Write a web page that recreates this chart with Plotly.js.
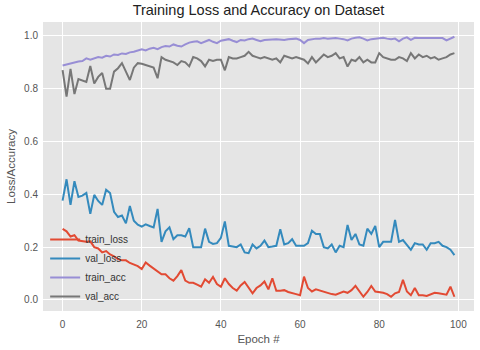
<!DOCTYPE html>
<html>
<head>
<meta charset="utf-8">
<script src="https://cdn.plot.ly/plotly-3.0.1.min.js"></script>
<style>
  html, body { margin: 0; padding: 0; background: #fff; }
  #chart { width: 480px; height: 350px; }
</style>
</head>
<body>
<div id="chart"></div>
<script>
var trainLoss = [0.269,0.260,0.240,0.245,0.225,0.222,0.220,0.222,0.200,0.195,
  0.180,0.185,0.172,0.165,0.155,0.150,0.150,0.140,0.135,0.128,
  0.117,0.142,0.130,0.120,0.110,0.097,0.097,0.082,0.073,0.090,
  0.113,0.073,0.065,0.065,0.058,0.050,0.078,0.065,0.087,0.060,
  0.050,0.082,0.060,0.045,0.035,0.055,0.068,0.045,0.025,0.045,
  0.055,0.070,0.040,0.082,0.035,0.035,0.037,0.030,0.027,0.022,
  0.018,0.088,0.045,0.032,0.040,0.035,0.030,0.025,0.022,0.020,
  0.025,0.032,0.027,0.037,0.053,0.030,0.012,0.030,0.053,0.032,
  0.030,0.027,0.022,0.012,0.025,0.030,0.076,0.032,0.018,0.045,
  0.018,0.018,0.015,0.020,0.027,0.025,0.022,0.020,0.050,0.012];

var valLoss = [0.376,0.457,0.360,0.450,0.390,0.395,0.405,0.326,0.398,0.375,
  0.360,0.417,0.405,0.334,0.314,0.320,0.290,0.356,0.300,0.285,
  0.278,0.286,0.280,0.275,0.345,0.220,0.260,0.275,0.230,0.245,
  0.245,0.240,0.272,0.200,0.200,0.200,0.270,0.220,0.212,0.215,
  0.235,0.297,0.205,0.202,0.200,0.210,0.180,0.177,0.210,0.195,
  0.205,0.225,0.200,0.202,0.205,0.268,0.210,0.215,0.230,0.205,
  0.205,0.205,0.215,0.262,0.250,0.250,0.200,0.195,0.210,0.180,
  0.205,0.200,0.284,0.227,0.250,0.210,0.205,0.270,0.250,0.280,
  0.200,0.220,0.220,0.220,0.303,0.220,0.227,0.210,0.190,0.215,
  0.210,0.210,0.190,0.215,0.215,0.220,0.205,0.200,0.190,0.170];

var trainAcc = [0.888,0.892,0.895,0.900,0.903,0.905,0.915,0.910,0.915,0.920,
  0.918,0.925,0.922,0.930,0.928,0.934,0.932,0.938,0.940,0.945,
  0.950,0.945,0.952,0.955,0.950,0.958,0.962,0.960,0.968,0.963,
  0.960,0.968,0.975,0.978,0.980,0.973,0.980,0.985,0.978,0.973,
  0.982,0.985,0.988,0.982,0.977,0.985,0.983,0.988,0.990,0.985,
  0.980,0.985,0.987,0.987,0.988,0.987,0.985,0.988,0.990,0.990,
  0.985,0.973,0.985,0.988,0.990,0.990,0.992,0.990,0.992,0.992,
  0.990,0.988,0.983,0.990,0.993,0.995,0.990,0.983,0.988,0.990,
  0.992,0.993,0.990,0.988,0.990,0.980,0.990,0.995,0.985,0.993,
  0.992,0.992,0.990,0.992,0.990,0.990,0.992,0.983,0.990,0.997];

var valAcc = [0.871,0.770,0.875,0.780,0.837,0.830,0.826,0.886,0.820,0.845,
  0.860,0.800,0.800,0.865,0.878,0.897,0.865,0.833,0.880,0.897,
  0.895,0.890,0.885,0.880,0.840,0.920,0.910,0.905,0.900,0.890,
  0.905,0.900,0.885,0.920,0.915,0.905,0.885,0.910,0.905,0.910,
  0.910,0.870,0.920,0.915,0.915,0.920,0.925,0.940,0.925,0.920,
  0.915,0.920,0.915,0.910,0.915,0.900,0.925,0.920,0.915,0.920,
  0.915,0.910,0.896,0.920,0.900,0.915,0.930,0.920,0.925,0.935,
  0.915,0.920,0.884,0.910,0.905,0.920,0.900,0.910,0.900,0.900,
  0.935,0.920,0.915,0.910,0.910,0.920,0.915,0.905,0.935,0.915,
  0.930,0.920,0.925,0.915,0.920,0.910,0.915,0.920,0.930,0.935];

var epochs = [];
for (var i = 0; i < trainLoss.length; i++) epochs.push(i);

var seriesNames = ['train_loss', 'val_loss', 'train_acc', 'val_acc'];
var seriesVals = [trainLoss, valLoss, trainAcc, valAcc];
var seriesColors = ['#E24A33', '#348ABD', '#988ED5', '#777777'];

var data = [];
for (var s = 0; s < seriesNames.length; s++) {
  data.push({
    x: epochs, y: seriesVals[s], name: seriesNames[s],
    mode: 'lines', type: 'scatter',
    line: { color: seriesColors[s], width: 2 }
  });
}

var layout = {
  width: 480, height: 350,
  margin: { l: 43, r: 6, t: 22, b: 39 },
  paper_bgcolor: '#ffffff',
  plot_bgcolor: '#E5E5E5',
  font: { family: 'Liberation Sans, Arial, sans-serif', size: 10, color: '#555555' },
  title: {
    text: 'Training Loss and Accuracy on Dataset',
    font: { size: 14.5, color: '#222222' },
    xref: 'paper', x: 0.5, xanchor: 'center', y: 0.985, yanchor: 'top'
  },
  showlegend: true,
  legend: {
    x: 0.005, y: 0.0, xanchor: 'left', yanchor: 'bottom',
    bgcolor: 'rgba(0,0,0,0)',
    font: { size: 10, color: '#333333' },
    itemwidth: 30,
    tracegroupgap: 0
  },
  xaxis: {
    range: [-4.95, 103.95],
    tickvals: [0, 20, 40, 60, 80, 100],
    showgrid: true, gridcolor: '#ffffff', gridwidth: 1,
    zeroline: false, showline: false,
    ticks: 'outside', ticklen: 4, tickcolor: 'rgba(0,0,0,0)',
    tickfont: { size: 10, color: '#555555' },
    title: { text: 'Epoch #', font: { size: 11.5, color: '#555555' }, standoff: 5 }
  },
  yaxis: {
    range: [-0.042, 1.053],
    tickvals: [0, 0.2, 0.4, 0.6, 0.8, 1.0],
    tickformat: '.1f',
    showgrid: true, gridcolor: '#ffffff', gridwidth: 1,
    zeroline: false, showline: false,
    ticks: 'outside', ticklen: 2, tickcolor: 'rgba(0,0,0,0)',
    tickfont: { size: 10, color: '#555555' },
    title: { text: 'Loss/Accuracy', font: { size: 11.5, color: '#555555' }, standoff: 6 }
  }
};

Plotly.newPlot('chart', data, layout, { displayModeBar: false, staticPlot: true });
</script>
</body>
</html>
